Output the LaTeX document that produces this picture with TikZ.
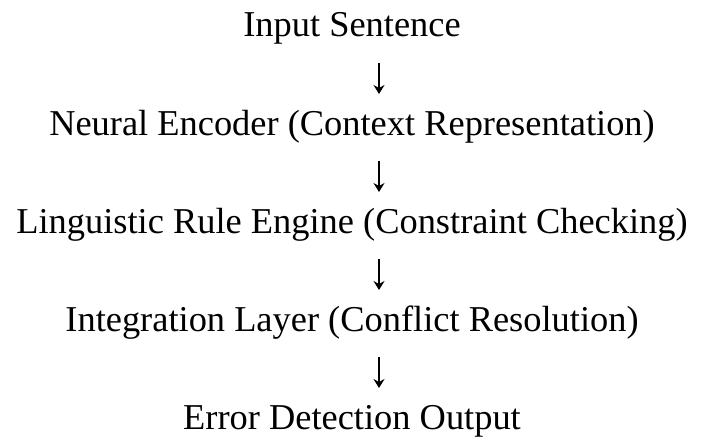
\documentclass[tikz,border=0pt]{standalone}
\usepackage{fontspec}
\setmainfont{Liberation Serif}
\usetikzlibrary{arrows.meta}
\begin{document}
\begin{tikzpicture}[x=1pt,y=-1pt,
  lbl/.style={anchor=base,inner sep=0pt,font=\fontsize{36.4}{40}\selectfont},
  flow/.style={line width=1.5pt,-{Stealth[length=9pt,width=11pt,inset=3pt]}}]
\useasboundingbox (0,0) rectangle (703,441);
\node[lbl] (in)  at (352,37)  {Input Sentence};
\node[lbl] (enc) at (352,135) {Neural Encoder (Context Representation)};
\node[lbl] (rul) at (352,233) {Linguistic Rule Engine (Constraint Checking)};
\node[lbl] (int) at (352,331) {Integration Layer (Conflict Resolution)};
\node[lbl] (out) at (352,429) {Error Detection Output};
\coordinate (a1s) at (379,63);  \coordinate (a1e) at (379,94);
\coordinate (a2s) at (379,161); \coordinate (a2e) at (379,192);
\coordinate (a3s) at (379,259); \coordinate (a3e) at (379,290);
\coordinate (a4s) at (379,357); \coordinate (a4e) at (379,388);
\draw[flow] (a1s) -- (a1e);
\draw[flow] (a2s) -- (a2e);
\draw[flow] (a3s) -- (a3e);
\draw[flow] (a4s) -- (a4e);
\end{tikzpicture}
\end{document}
